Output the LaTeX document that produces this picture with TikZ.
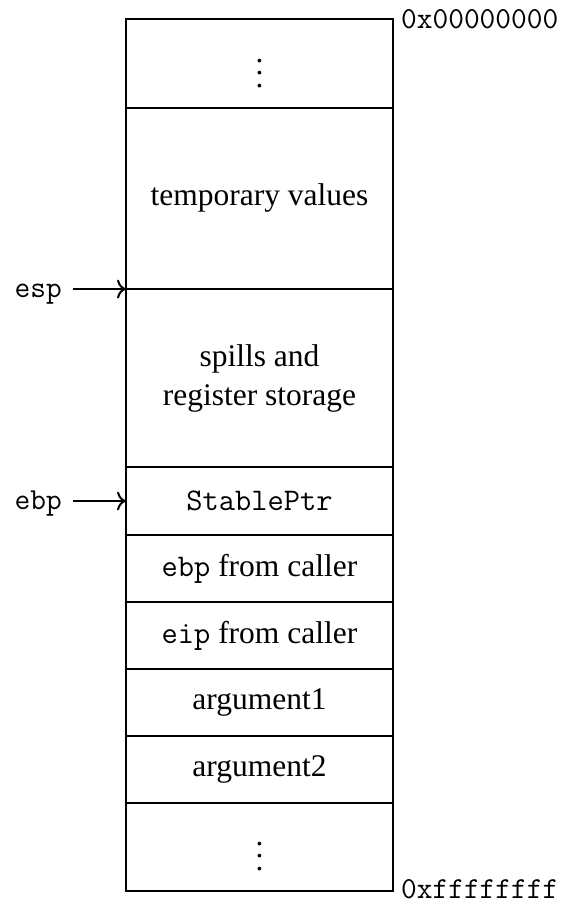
\documentclass[tikz,border=0pt]{standalone}
\usepackage{fontspec}
\setmainfont{Liberation Serif}
\usetikzlibrary{arrows.meta}
\newcommand\myvdots{\vbox{\baselineskip12.4pt \lineskiplimit0pt \kern18.6pt\hbox{.}\hbox{.}\hbox{.}}}
\begin{document}
\begin{tikzpicture}[x=1pt,y=-1pt,
  frame/.style={line width=2.8pt},
  cell/.style={align=center,inner sep=0pt,font=\fontsize{31.5}{39}\selectfont},
  addr/.style={inner sep=0pt,font=\fontsize{30.5}{36}\selectfont\ttfamily},
  ptr/.style={line width=2pt,-{To[scale=1.5]}}]
\useasboundingbox (0,0) rectangle (567,906);
% row boundaries
\coordinate (L0) at (126,19);  \coordinate (R0) at (393,19);
\coordinate (L1) at (126,108); \coordinate (R1) at (393,108);
\coordinate (L2) at (126,289); \coordinate (R2) at (393,289);
\coordinate (L3) at (126,467); \coordinate (R3) at (393,467);
\coordinate (L4) at (126,535); \coordinate (R4) at (393,535);
\coordinate (L5) at (126,602); \coordinate (R5) at (393,602);
\coordinate (L6) at (126,669); \coordinate (R6) at (393,669);
\coordinate (L7) at (126,736); \coordinate (R7) at (393,736);
\coordinate (L8) at (126,803); \coordinate (R8) at (393,803);
\coordinate (L9) at (126,891); \coordinate (R9) at (393,891);
\draw[frame] (L0) rectangle (R9);
\foreach \i in {1,...,8} \draw[frame] (L\i) -- (R\i);
% cell contents
\node[cell] (c0) at (259.5,64) {\myvdots};
\node[cell] (c1) at (259.5,198) {temporary values};
\node[cell] (c2) at (259.5,378) {spills and\\register storage};
\node[cell] (c3) at (259.5,501) {\ttfamily StablePtr};
\node[cell] (c4) at (259.5,568.5) {{\ttfamily ebp} from caller};
\node[cell] (c5) at (259.5,635.5) {{\ttfamily eip} from caller};
\node[cell] (c6) at (259.5,702.5) {argument1};
\node[cell] (c7) at (259.5,769.5) {argument2};
\node[cell] (c8) at (259.5,847) {\myvdots};
% addresses
\node[addr,anchor=base west] (a0) at (401,28) {0x00000000};
\node[addr,anchor=base west] (a1) at (401,898) {0xffffffff};
% pointers
\node[addr,anchor=base east] (esp) at (62,297) {esp};
\node[addr,anchor=base east] (ebp) at (62,509) {ebp};
\coordinate (espS) at (73,289);
\coordinate (ebpS) at (73,501);
\coordinate (espT) at (126,289);
\coordinate (ebpT) at (126,501);
\draw[ptr] (espS) -- (espT);
\draw[ptr] (ebpS) -- (ebpT);
\end{tikzpicture}
\end{document}
